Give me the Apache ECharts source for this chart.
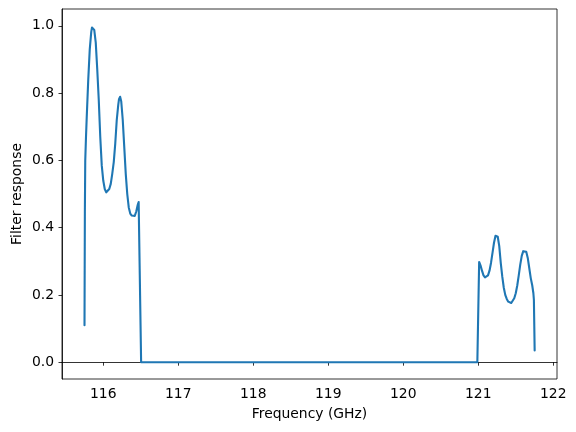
<!DOCTYPE html>
<html>
<head>
<meta charset="utf-8">
<script src="https://cdn.jsdelivr.net/npm/echarts@6/dist/echarts.min.js"></script>
<style>html,body{margin:0;padding:0;background:#fff}#c{width:576px;height:432px}</style>
</head>
<body>
<div id="c"></div>
<script>
const frequency = [
  115.75, 115.755, 115.76, 115.77, 115.78, 115.80, 115.82, 115.84, 115.85, 115.86, 115.87, 115.88,
  115.90, 115.92, 115.94, 115.96, 115.98, 116.00, 116.02, 116.04, 116.06, 116.08,
  116.10, 116.12, 116.14, 116.16, 116.18, 116.20, 116.21, 116.225, 116.24, 116.26, 116.28,
  116.30, 116.32, 116.34, 116.36, 116.38, 116.40, 116.42, 116.44, 116.46, 116.472,
  116.505, 117.0, 118.0, 119.0, 120.0, 120.988,
  121.012, 121.03, 121.05, 121.07, 121.09, 121.11, 121.13, 121.15, 121.17, 121.19,
  121.21, 121.23, 121.245, 121.26, 121.28, 121.30, 121.32, 121.34, 121.36, 121.38,
  121.40, 121.42, 121.44, 121.46, 121.48, 121.50, 121.52, 121.54, 121.56, 121.58,
  121.60, 121.62, 121.64, 121.66, 121.68, 121.70, 121.72, 121.735, 121.742, 121.752
];
const response = [
  0.11, 0.45, 0.60, 0.67, 0.73, 0.84, 0.93, 0.982, 0.995, 1.0, 0.998, 0.988,
  0.95, 0.87, 0.78, 0.67, 0.585, 0.54, 0.515, 0.505, 0.507, 0.515,
  0.53, 0.56, 0.595, 0.65, 0.72, 0.765, 0.782, 0.789, 0.775, 0.72, 0.64,
  0.56, 0.50, 0.46, 0.442, 0.436, 0.432, 0.435, 0.448, 0.468, 0.476,
  0.0, 0.0, 0.0, 0.0, 0.0, 0.0,
  0.298, 0.288, 0.272, 0.258, 0.252, 0.252, 0.258, 0.272, 0.295, 0.325,
  0.355, 0.376, 0.38, 0.373, 0.345, 0.295, 0.255, 0.222, 0.200, 0.188,
  0.180, 0.176, 0.176, 0.180, 0.190, 0.205, 0.228, 0.258, 0.290, 0.316,
  0.330, 0.335, 0.328, 0.310, 0.280, 0.250, 0.228, 0.205, 0.185, 0.035
];
const xTicks = [116, 117, 118, 119, 120, 121, 122];
const yTicks = [0.0, 0.2, 0.4, 0.6, 0.8, 1.0];

const chart = echarts.init(document.getElementById('c'), null, {renderer: 'canvas'});
const font = 'DejaVu Sans';
chart.setOption({
  animation: false,
  backgroundColor: '#fff',
  grid: {left: 62, right: 19, top: 9, bottom: 53, containLabel: false, outerBoundsMode: 'none',
         show: true, borderColor: '#000', borderWidth: 0.8, backgroundColor: 'transparent'},
  xAxis: {
    type: 'value', min: 115.45, max: 122.05,
    name: 'Frequency (GHz)', nameLocation: 'middle', nameGap: 28, nameMoveOverlap: false,
    nameTextStyle: {fontFamily: font, fontSize: 13.9, color: '#000'},
    axisLine: {show: true, lineStyle: {color: '#000', width: 0.8}},
    axisTick: {show: true, length: 3.5, lineStyle: {color: '#000', width: 0.8}, customValues: xTicks},
    axisLabel: {fontFamily: font, fontSize: 13.9, color: '#000', margin: 8, customValues: xTicks, formatter: v => String(Math.round(v))},
    splitLine: {show: false}
  },
  yAxis: {
    type: 'value', min: -0.05, max: 1.05,
    name: 'Filter response', nameLocation: 'middle', nameGap: 38, nameRotate: 90, nameMoveOverlap: false,
    nameTextStyle: {fontFamily: font, fontSize: 13.9, color: '#000'},
    axisLine: {show: true, lineStyle: {color: '#000', width: 0.8}},
    axisTick: {show: true, length: 3.5, lineStyle: {color: '#000', width: 0.8}, customValues: yTicks},
    axisLabel: {fontFamily: font, fontSize: 13.9, color: '#000', margin: 8, customValues: yTicks, formatter: v => v.toFixed(1)},
    splitLine: {show: false}
  },
  series: [{
    type: 'line',
    data: frequency.map((f, i) => [f, response[i]]),
    showSymbol: false,
    smooth: false,
    lineStyle: {color: '#1f77b4', width: 2.1, join: 'round', cap: 'round'},
    clip: true
  }]
});
</script>
</body>
</html>
